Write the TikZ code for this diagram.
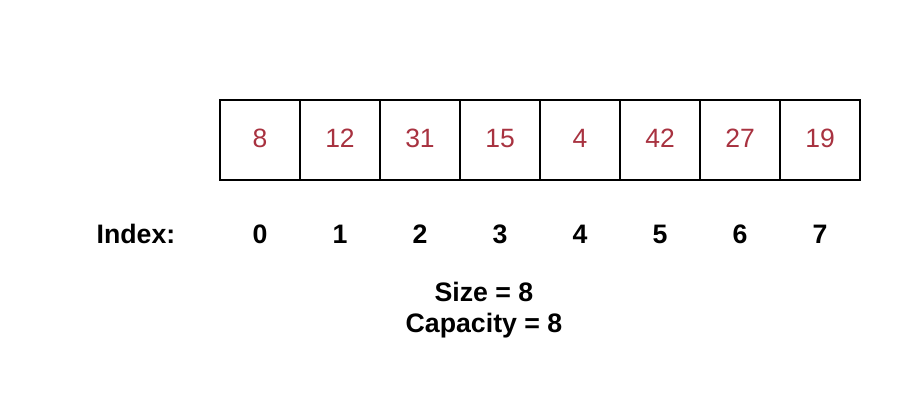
\documentclass[tikz,border=0pt]{standalone}
\usepackage{fontspec}
\setmainfont{Liberation Sans}
\definecolor{valred}{HTML}{A83240}
\begin{document}
\begin{tikzpicture}[x=1pt,y=-1pt,
  cell/.style={draw=black,line width=2pt,minimum width=80pt,minimum height=80pt,inner sep=0pt,anchor=center,text=valred,font=\fontsize{26.5}{30}\selectfont},
  lbl/.style={font=\fontsize{26.7}{30}\selectfont\bfseries,inner sep=0pt,anchor=center}]
\useasboundingbox (0,0) rectangle (900,406);
\foreach \v [count=\i from 0] in {8,12,31,15,4,42,27,19} {
  \node[cell] (c\i) at (260+80*\i,140) {\raisebox{4pt}{\v}};
  \node[lbl] (i\i) at (260+80*\i,234) {\i};
}
\node[lbl] (idx) at (136,234) {Index:};
\node[lbl] (size) at (484,292) {Size = 8};
\node[lbl] (cap) at (484,326) {Capacity = 8};
\end{tikzpicture}
\end{document}
